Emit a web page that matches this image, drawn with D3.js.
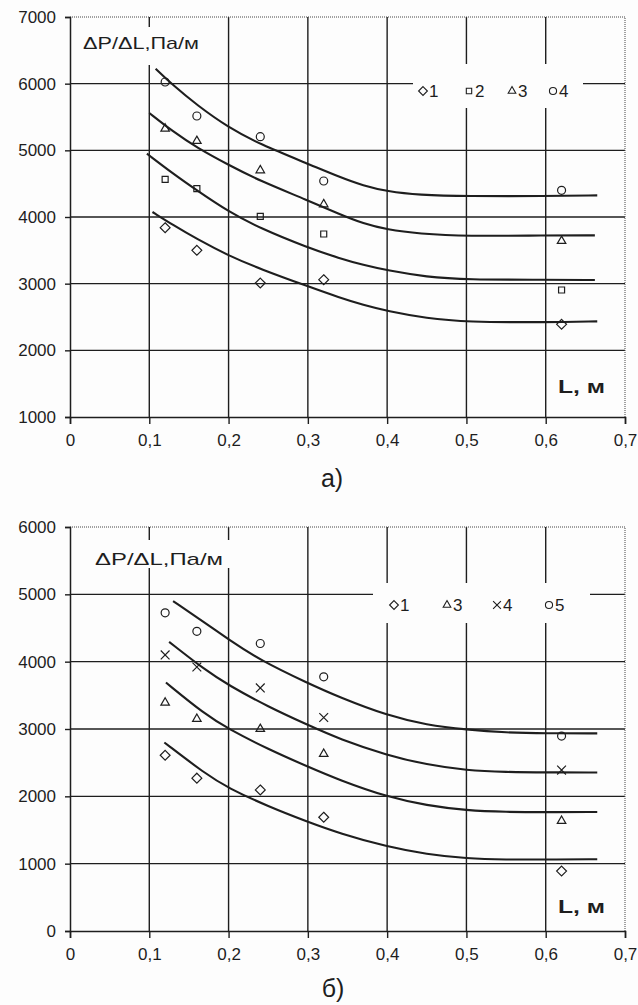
<!DOCTYPE html>
<html>
<head>
<meta charset="utf-8">
<script src="https://cdn.jsdelivr.net/npm/d3@7"></script>
<style>
  body { margin: 0; background: #fff; }
  svg { display: block; }
  text { font-family: "Liberation Sans", Arial, sans-serif; fill: #1e1e1e; }
</style>
</head>
<body>
<svg id="fig" width="638" height="1005"></svg>
<script>
// ---- data ----
const xTicks = [0, 0.1, 0.2, 0.3, 0.4, 0.5, 0.6, 0.7];
const xTickLabels = ["0", "0,1", "0,2", "0,3", "0,4", "0,5", "0,6", "0,7"];
const aYTicks = [1000, 2000, 3000, 4000, 5000, 6000, 7000];
const bYTicks = [0, 1000, 2000, 3000, 4000, 5000, 6000];

// measured lengths L, м
const pointL = [0.12, 0.16, 0.24, 0.32, 0.62];

// panel a) measured points
const aSeries1 = [3840, 3500, 3010, 3060, 2390];   // diamond
const aSeries2 = [4565, 4425, 4010, 3745, 2905];   // square
const aSeries3 = [5325, 5140, 4700, 4190, 3640];   // triangle
const aSeries4 = [6025, 5515, 5205, 4540, 4400];   // circle
const aLegend = ["1", "2", "3", "4"];

// panel a) fitted curves [L, dP/dL]
const aFit1 = [[0.104,4075],[0.13,3880],[0.16,3670],[0.2,3420],[0.24,3220],[0.3,2960],[0.34,2790],[0.37,2680],[0.4,2590],[0.45,2480],[0.5,2425],[0.6,2420],[0.665,2435]];
const aFit2 = [[0.097,4950],[0.13,4650],[0.16,4400],[0.2,4080],[0.24,3830],[0.3,3540],[0.34,3380],[0.37,3280],[0.4,3200],[0.45,3100],[0.5,3060],[0.6,3060],[0.662,3055]];
const aFit3 = [[0.1,5560],[0.13,5280],[0.16,5040],[0.2,4780],[0.24,4540],[0.3,4250],[0.34,4040],[0.37,3900],[0.4,3810],[0.44,3750],[0.5,3710],[0.6,3725],[0.662,3725]];
const aFit4 = [[0.108,6225],[0.13,5975],[0.16,5680],[0.2,5340],[0.24,5090],[0.3,4800],[0.34,4600],[0.37,4470],[0.4,4385],[0.44,4330],[0.5,4310],[0.6,4315],[0.665,4325]];

// panel б) measured points
const bSeries1 = [2610, 2270, 2095, 1690, 890];    // diamond
const bSeries3 = [3390, 3150, 3000, 2630, 1635];   // triangle
const bSeries4 = [4100, 3920, 3610, 3170, 2390];   // cross
const bSeries5 = [4725, 4450, 4270, 3775, 2895];   // circle
const bLegend = ["1", "3", "4", "5"];

// panel б) fitted curves
const bFit1 = [[0.119,2800],[0.17,2340],[0.2,2120],[0.25,1850],[0.3,1620],[0.34,1450],[0.4,1250],[0.45,1140],[0.5,1075],[0.55,1060],[0.6,1062],[0.665,1065]];
const bFit3 = [[0.121,3690],[0.17,3220],[0.2,3000],[0.25,2700],[0.3,2440],[0.34,2240],[0.4,1990],[0.45,1865],[0.5,1790],[0.55,1767],[0.6,1765],[0.665,1767]];
const bFit4 = [[0.125,4295],[0.17,3880],[0.2,3650],[0.25,3330],[0.3,3060],[0.34,2850],[0.4,2610],[0.45,2470],[0.5,2385],[0.55,2360],[0.6,2355],[0.665,2355]];
const bFit5 = [[0.13,4900],[0.17,4580],[0.2,4330],[0.24,4020],[0.3,3680],[0.34,3470],[0.4,3200],[0.45,3060],[0.5,2990],[0.55,2945],[0.6,2935],[0.665,2935]];

const ink = "#1e1e1e";
const paper = "#fdfdfd";
const svg = d3.select("#fig");
svg.append("rect").attr("width", 638).attr("height", 1005).attr("fill", paper);

const shapes = {
  diamond: [d3.symbolDiamond2 || d3.symbolDiamond, 62],
  square: [d3.symbolSquare2 || d3.symbolSquare, 46],
  triangle: [d3.symbolTriangle2 || d3.symbolTriangle, 52],
  circle: [d3.symbolCircle, 50],
  cross: [d3.symbolTimes || d3.symbolCross, 52]
};
const symbolPath = (shape, k) => d3.symbol().type(shapes[shape][0]).size(shapes[shape][1] * k)();

function styleAxis(a) {
  a.select(".domain").attr("stroke", ink).attr("stroke-width", 1.5);
  a.selectAll("line").attr("stroke", ink).attr("stroke-width", 1.4);
  a.selectAll("text").attr("font-size", 17).attr("fill", ink)
    .attr("font-family", "Liberation Sans, Arial, sans-serif");
}

function drawPanel(p) {
  const x = d3.scaleLinear().domain([0, 0.7]).range([70, 625]);
  const y = d3.scaleLinear().domain(p.yDomain).range(p.yRange);
  const g = svg.append("g");

  // grid
  g.selectAll(".hgrid").data(p.yTicks.slice(1, -1)).enter().append("line")
    .attr("x1", x(0)).attr("x2", x(0.7))
    .attr("y1", d => y(d)).attr("y2", d => y(d))
    .attr("stroke", ink).attr("stroke-width", 1.4);
  g.selectAll(".vgrid").data(xTicks.slice(1, -1)).enter().append("line")
    .attr("x1", d => x(d)).attr("x2", d => x(d))
    .attr("y1", y(p.yDomain[0])).attr("y2", y(p.yDomain[1]))
    .attr("stroke", ink).attr("stroke-width", 1.4);

  // dotted frame top / right
  g.append("path")
    .attr("d", `M${x(0)},${y(p.yDomain[1])}H${x(0.7)}V${y(p.yDomain[0])}`)
    .attr("fill", "none").attr("stroke", "#444").attr("stroke-width", 1)
    .attr("stroke-dasharray", "1,1");

  // axes
  const xAxis = d3.axisBottom(x).tickValues(xTicks)
    .tickFormat((d, i) => xTickLabels[i]).tickSize(7).tickPadding(10);
  g.append("g").attr("transform", `translate(0,${y(p.yDomain[0])})`).call(xAxis).call(styleAxis);
  const yAxis = d3.axisLeft(y).tickValues(p.yTicks).tickFormat(d3.format("d"))
    .tickSize(5).tickPadding(9);
  g.append("g").attr("transform", `translate(${x(0)},0)`).call(yAxis).call(styleAxis);

  // white boxes behind title and legend
  g.append("rect").attr("x", p.titleBox[0]).attr("y", p.titleBox[1])
    .attr("width", p.titleBox[2]).attr("height", p.titleBox[3]).attr("fill", paper);
  g.append("rect").attr("x", p.legendBox[0]).attr("y", p.legendBox[1])
    .attr("width", p.legendBox[2]).attr("height", p.legendBox[3]).attr("fill", paper);

  g.append("text").attr("x", p.titlePos[0]).attr("y", p.titlePos[1])
    .attr("font-size", 17).attr("textLength", p.titleLen).attr("lengthAdjust", "spacingAndGlyphs")
    .text("ΔP/ΔL,Па/м");

  // fitted curves
  const line = d3.line().x(d => x(d[0])).y(d => y(d[1])).curve(d3.curveBasis);
  p.fits.forEach(f => {
    g.append("path").attr("d", line(f)).attr("fill", "none")
      .attr("stroke", ink).attr("stroke-width", 2.1);
  });

  // measured points
  p.series.forEach(s => {
    g.selectAll(null).data(s.values).enter().append("path")
      .attr("d", symbolPath(s.shape, 1))
      .attr("transform", (d, i) => `translate(${x(pointL[i])},${y(d)})`)
      .attr("fill", "none").attr("stroke", ink).attr("stroke-width", 1.2);
  });

  // legend
  p.series.forEach((s, i) => {
    const lx = p.legendX[i];
    g.append("path").attr("d", symbolPath(s.shape, 0.8))
      .attr("transform", `translate(${lx},${p.legendY - 6})`)
      .attr("fill", "none").attr("stroke", ink).attr("stroke-width", 1.1);
    g.append("text").attr("x", lx + 6).attr("y", p.legendY)
      .attr("font-size", 17).text(p.legendLabels[i]);
  });

  // axis name
  g.append("text").attr("x", p.lPos[0]).attr("y", p.lPos[1])
    .attr("font-family", "Liberation Serif, Times New Roman, serif")
    .attr("font-weight", "bold").attr("font-size", 19)
    .attr("textLength", 47).attr("lengthAdjust", "spacingAndGlyphs")
    .text("L, м");

  // caption
  g.append("text").attr("x", p.capPos[0]).attr("y", p.capPos[1])
    .attr("font-size", 25).attr("text-anchor", "middle").text(p.caption);
}

drawPanel({
  yDomain: [1000, 7000], yRange: [417, 17], yTicks: aYTicks,
  titleBox: [78, 27, 132, 38], titlePos: [83, 49], titleLen: 116,
  legendBox: [413, 64, 170, 44], legendX: [423, 469, 512, 553], legendY: 97,
  legendLabels: aLegend,
  fits: [aFit1, aFit2, aFit3, aFit4],
  series: [
    { shape: "diamond", values: aSeries1 },
    { shape: "square", values: aSeries2 },
    { shape: "triangle", values: aSeries3 },
    { shape: "circle", values: aSeries4 }
  ],
  lPos: [558, 393], capPos: [332, 487], caption: "а)"
});

drawPanel({
  yDomain: [0, 6000], yRange: [931, 527], yTicks: bYTicks,
  titleBox: [85, 540, 155, 28], titlePos: [95, 565], titleLen: 128,
  legendBox: [373, 583, 217, 40], legendX: [394, 447, 497, 549], legendY: 611,
  legendLabels: bLegend,
  fits: [bFit1, bFit3, bFit4, bFit5],
  series: [
    { shape: "diamond", values: bSeries1 },
    { shape: "triangle", values: bSeries3 },
    { shape: "cross", values: bSeries4 },
    { shape: "circle", values: bSeries5 }
  ],
  lPos: [558, 913], capPos: [333, 997], caption: "б)"
});
</script>
</body>
</html>
